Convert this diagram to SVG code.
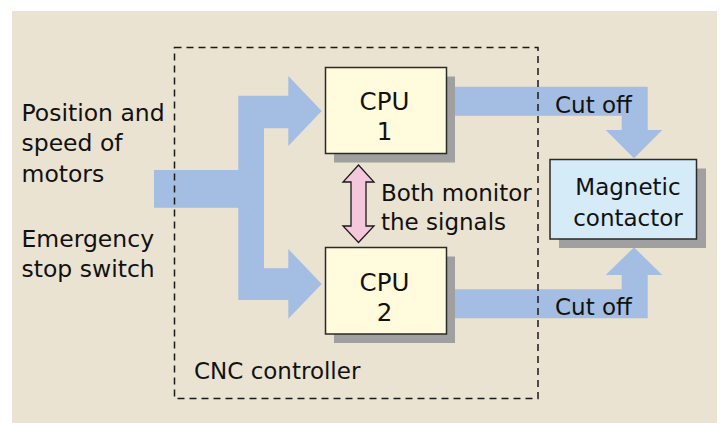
<svg xmlns="http://www.w3.org/2000/svg" width="724" height="423" viewBox="0 0 724 423">
<style>
.t{font-family:"DejaVu Sans","Liberation Sans",sans-serif;font-size:23px;fill:#111111}
.c{text-anchor:middle}
.l{font-size:23.5px}
.big{font-size:24.5px}
.flow{fill:#a3bde3}
.sh{fill:#a0a0a0}
.box{stroke:#2a2a2a;stroke-width:1.5}
.cpu{fill:#fffbdc}
.mc{fill:#d5ebf8}
</style>
<rect x="0" y="0" width="724" height="423" fill="#ffffff"/>
<rect x="12" y="11" width="705" height="412" fill="#ebe3d1"/>
<g id="connectors">
  <path class="flow" d="M154,170 L238.3,170 L238.3,95.7 L288.3,95.7 L288.3,76 L321.7,111 L288.3,146 L288.3,128.3 L264,128.3 L264,268.3 L288.3,268.3 L288.3,249 L321.7,284 L288.3,318.7 L288.3,300 L238.3,300 L238.3,207.7 L154,207.7 Z"/>
  <path class="flow" d="M450,86.7 L647.7,86.7 L647.7,130 L662.3,130 L634,158.3 L605.7,130 L621.7,130 L621.7,115.7 L450,115.7 Z"/>
  <path class="flow" d="M450,289.3 L621.7,289.3 L621.7,275 L605.7,275 L634,247.3 L662.3,275 L647.7,275 L647.7,318.3 L450,318.3 Z"/>
  <path d="M358.5,165 L374,182 L366,182 L366,226 L374,226 L358.5,242.5 L343,226 L351,226 L351,182 L343,182 Z" fill="#f5c7dc" stroke="#1a1a1a" stroke-width="1.3" stroke-linejoin="miter"/>
</g>
<g id="cnc-controller">
  <rect x="174.5" y="47.5" width="363.5" height="351" fill="none" stroke="#1a1a1a" stroke-width="1.5" stroke-dasharray="7 5"/>
  <text class="t" x="194" y="379">CNC controller</text>
</g>
<g id="inputs">
  <text class="t l" x="21.5" y="120.7">Position and</text>
  <text class="t l" x="21.5" y="151">speed of</text>
  <text class="t l" x="21.5" y="181.5">motors</text>
  <text class="t l" x="21.5" y="246.7">Emergency</text>
  <text class="t l" x="21.5" y="277.3">stop switch</text>
</g>
<g id="cpu1">
  <rect class="sh" x="334" y="76.5" width="121" height="86"/>
  <rect class="box cpu" x="325.5" y="67.5" width="121" height="86"/>
  <text class="t c big" x="384.5" y="110">CPU</text>
  <text class="t c big" x="384.5" y="140">1</text>
</g>
<g id="cpu2">
  <rect class="sh" x="334" y="256.5" width="121" height="86.5"/>
  <rect class="box cpu" x="325.5" y="247.5" width="121" height="86.5"/>
  <text class="t c big" x="384.5" y="290.7">CPU</text>
  <text class="t c big" x="384.5" y="320.7">2</text>
</g>
<g id="monitor-label">
  <text class="t" x="381" y="201">Both monitor</text>
  <text class="t" x="381" y="230">the signals</text>
</g>
<g id="magnetic-contactor">
  <rect class="sh" x="559" y="168.5" width="147" height="79.5"/>
  <rect class="box mc" x="550" y="159.5" width="146.5" height="79.5"/>
  <text class="t c" x="628" y="195">Magnetic</text>
  <text class="t c" x="628" y="225.5">contactor</text>
</g>
<g id="cutoff-labels">
  <text class="t" x="555" y="113.3">Cut off</text>
  <text class="t" x="555" y="314.5">Cut off</text>
</g>
</svg>
